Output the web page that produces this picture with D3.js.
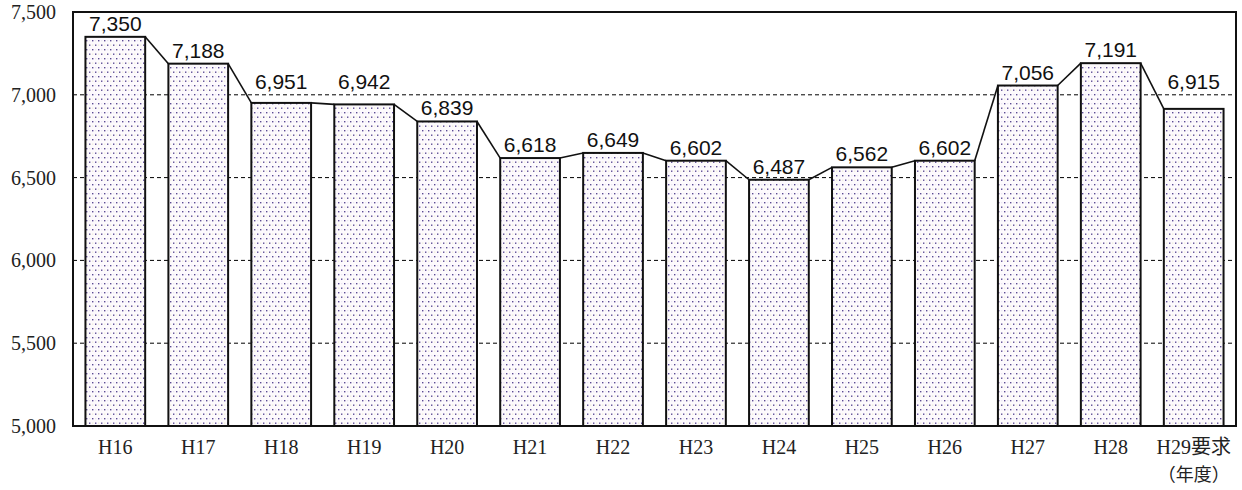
<!DOCTYPE html>
<html>
<head>
<meta charset="utf-8">
<script src="https://cdn.jsdelivr.net/npm/d3@7"></script>
<style>
  body { margin: 0; background: #fff; }
  svg { display: block; }
  .serif text { font-family: "Liberation Serif", "DejaVu Serif", "Noto Sans CJK JP", serif; font-size: 20px; }
</style>
</head>
<body>
<div id="chart"></div>
<script>
// data
const categories = ['H16', 'H17', 'H18', 'H19', 'H20', 'H21', 'H22', 'H23', 'H24', 'H25', 'H26', 'H27', 'H28', 'H29要求'];
const values = [7350, 7188, 6951, 6942, 6839, 6618, 6649, 6602, 6487, 6562, 6602, 7056, 7191, 6915];
const yTicks = [5000, 5500, 6000, 6500, 7000, 7500];
const unitLabel = '（年度）';

const W = 1242, H = 490;
const margin = { top: 12, right: 6, bottom: 64, left: 73 };
const innerW = W - margin.left - margin.right;
const innerH = H - margin.top - margin.bottom;

const svg = d3.select('#chart').append('svg')
  .attr('width', W)
  .attr('height', H);

// dotted fill for the bars
const defs = svg.append('defs');
const pat = defs.append('pattern')
  .attr('id', 'dots')
  .attr('patternUnits', 'userSpaceOnUse')
  .attr('width', 6)
  .attr('height', 9);
pat.append('rect').attr('width', 6).attr('height', 9).attr('fill', '#fdfafd');
pat.append('rect').attr('x', 1).attr('y', 1).attr('width', 1.4).attr('height', 1.4).attr('fill', '#5a4a93');
pat.append('rect').attr('x', 4).attr('y', 5.5).attr('width', 1.4).attr('height', 1.4).attr('fill', '#5a4a93');
pat.append('rect').attr('x', 4).attr('y', 1).attr('width', 1.3).attr('height', 1.3).attr('fill', '#ebe6f3');
pat.append('rect').attr('x', 1).attr('y', 5.5).attr('width', 1.3).attr('height', 1.3).attr('fill', '#f1efd9');

const g = svg.append('g')
  .attr('transform', `translate(${margin.left},${margin.top})`);

const x = d3.scaleBand()
  .domain(categories)
  .range([0, innerW])
  .paddingInner(0.28)
  .paddingOuter(0.15);

const y = d3.scaleLinear()
  .domain([5000, 7500])
  .range([innerH, 0]);

const gridVals = yTicks.filter(t => t > 5000 && t < 7500);

// dashed gridlines
g.append('g')
  .selectAll('line')
  .data(gridVals)
  .enter()
  .append('line')
  .attr('x1', 0)
  .attr('x2', innerW)
  .attr('y1', d => y(d))
  .attr('y2', d => y(d))
  .attr('stroke', '#000')
  .attr('stroke-width', 1)
  .attr('stroke-dasharray', '4,3');

// y axis labels
const yAxis = g.append('g')
  .attr('class', 'serif')
  .call(d3.axisLeft(y).tickValues(yTicks).tickFormat(d3.format(',')).tickSize(0).tickPadding(17));
yAxis.attr('font-family', null).attr('font-size', null);
yAxis.select('.domain').remove();
yAxis.selectAll('text').attr('fill', '#222');

// bars
const data = categories.map((c, i) => ({ cat: c, v: values[i] }));

g.append('g')
  .selectAll('rect')
  .data(data)
  .enter()
  .append('rect')
  .attr('x', d => x(d.cat))
  .attr('y', d => y(d.v))
  .attr('width', x.bandwidth())
  .attr('height', d => innerH - y(d.v))
  .attr('fill', 'url(#dots)')
  .attr('stroke', '#111')
  .attr('stroke-width', 2);

// connector lines between bar tops
const links = data.slice(1).map((d, i) => ({ a: data[i], b: d }));
g.append('g')
  .selectAll('line')
  .data(links)
  .enter()
  .append('line')
  .attr('x1', d => x(d.a.cat) + x.bandwidth())
  .attr('y1', d => y(d.a.v))
  .attr('x2', d => x(d.b.cat))
  .attr('y2', d => y(d.b.v))
  .attr('stroke', '#111')
  .attr('stroke-width', 1.6);

// value labels; lift a label above a gridline it would sit on
function labelY(v) {
  let base = y(v) - 6;
  gridVals.forEach(t => {
    const gy = y(t);
    if (gy < base - 1 && gy > base - 16) base = gy - 6;
  });
  return base;
}

g.append('g')
  .selectAll('text')
  .data(data)
  .enter()
  .append('text')
  .attr('x', d => x(d.cat) + x.bandwidth() / 2)
  .attr('y', d => labelY(d.v))
  .attr('text-anchor', 'middle')
  .attr('fill', '#111')
  .style('font-family', '"Liberation Sans", Arial, sans-serif')
  .style('font-size', '21px')
  .text(d => d3.format(',')(d.v));

// frame
g.append('rect')
  .attr('x', 0)
  .attr('y', 0)
  .attr('width', innerW)
  .attr('height', innerH)
  .attr('fill', 'none')
  .attr('stroke', '#111')
  .attr('stroke-width', 2);

// category labels
const xAxis = g.append('g')
  .attr('class', 'serif')
  .attr('transform', `translate(0,${innerH})`)
  .call(d3.axisBottom(x).tickSize(0).tickPadding(14));
xAxis.attr('font-family', null).attr('font-size', null);
xAxis.select('.domain').remove();
xAxis.selectAll('text').attr('fill', '#222');

g.append('text')
  .attr('x', x(categories[categories.length - 1]) + x.bandwidth() / 2)
  .attr('y', innerH + 55)
  .attr('text-anchor', 'middle')
  .attr('fill', '#222')
  .style('font-family', '"Noto Sans CJK JP", serif')
  .style('font-size', '18px')
  .text(unitLabel);
</script>
</body>
</html>
